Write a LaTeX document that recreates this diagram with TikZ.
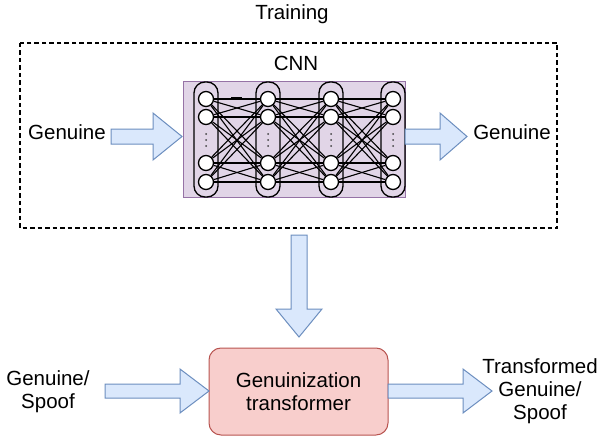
\documentclass[tikz,border=0pt]{standalone}
\usepackage{fontspec}
\setmainfont{Liberation Sans}
\definecolor{bfill}{HTML}{DAE8FC}
\definecolor{bdraw}{HTML}{6C8EBF}
\definecolor{pfill}{HTML}{E1D5E7}
\definecolor{pdraw}{HTML}{9673A6}
\definecolor{rfill}{HTML}{F8CECC}
\definecolor{rdraw}{HTML}{B85450}
\begin{document}
\begin{tikzpicture}[x=1pt,y=-1pt,
  lbl/.style={font=\fontsize{20.5}{23}\selectfont, align=center, inner sep=0pt},
  barrow/.style={fill=bfill, draw=bdraw, line width=1pt, line join=miter},
  neuron/.style={circle, draw=black, fill=white, line width=1.3pt, minimum size=15pt, inner sep=0pt},
  layerbox/.style={draw=black, line width=1.3pt, rounded corners=11pt, minimum width=24pt, minimum height=115pt, inner sep=0pt},
  link/.style={draw=black, line width=1.1pt}]
\useasboundingbox (0,0) rectangle (603,436);
% Training frame
\node[lbl] (train) at (292,14) {Training};
\draw[line width=1.1pt, dash pattern=on 4.5pt off 3pt] (20,43) rectangle (557,228);
\node[lbl] (cnn) at (296,63) {CNN};
% CNN box
\node[fill=pfill, draw=pdraw, line width=1pt, minimum width=222pt, minimum height=115pt, inner sep=0pt] (cnnbox) at (294,139.5) {};
% neurons
\foreach \i/\x in {1/206,2/268,3/331,4/393}{
  \foreach \j/\y in {1/99,2/117,3/163,4/182}{
    \node[neuron] (n\i\j) at (\x,\y) {};
  }
  \fill[black!75] (\x,134) circle (1pt) (\x,140) circle (1pt) (\x,146) circle (1pt);
}
\foreach \i/\k in {1/2,2/3,3/4}{
  \foreach \j in {1,2,3,4}{
    \foreach \l in {1,2,3,4}{
      \draw[link] (n\i\j) -- (n\k\l);
    }
  }
}
\foreach \i/\x in {1/206,2/268,3/331,4/393}{
  \node[layerbox] (layer\i) at (\x,139.5) {};
}
\draw[line width=2pt] (231,98) -- (242,98);
% top arrows
\node[lbl] (gin) at (67,132) {Genuine};
\draw[barrow] (111,129) -- (153,129) -- (153,113) -- (182,136.5) -- (153,160) -- (153,144) -- (111,144) -- cycle;
\draw[barrow] (405,129) -- (440,129) -- (440,113) -- (467,136.5) -- (440,160) -- (440,144) -- (405,144) -- cycle;
\node[lbl] (gout) at (512,132) {Genuine};
% down arrow
\draw[barrow] (291,235) -- (307,235) -- (307,309) -- (322,309) -- (299,337) -- (276,309) -- (291,309) -- cycle;
% transformer
\node[fill=rfill, draw=rdraw, line width=1pt, rounded corners=12pt, minimum width=179pt, minimum height=87pt, inner sep=0pt] (trans) at (298.5,391.5) {};
\node[lbl] at (trans) {Genuinization\\transformer};
% bottom arrows
\node[lbl] (gs) at (48,392) {Genuine/\\Spoof};
\draw[barrow] (105,384) -- (180,384) -- (180,369) -- (209,391) -- (180,413) -- (180,398) -- (105,398) -- cycle;
\draw[barrow] (388,384) -- (463,384) -- (463,369) -- (492,391) -- (463,413) -- (463,398) -- (388,398) -- cycle;
\node[lbl] (tgs) at (540,391) {Transformed\\Genuine/\\Spoof};
\end{tikzpicture}
\end{document}
